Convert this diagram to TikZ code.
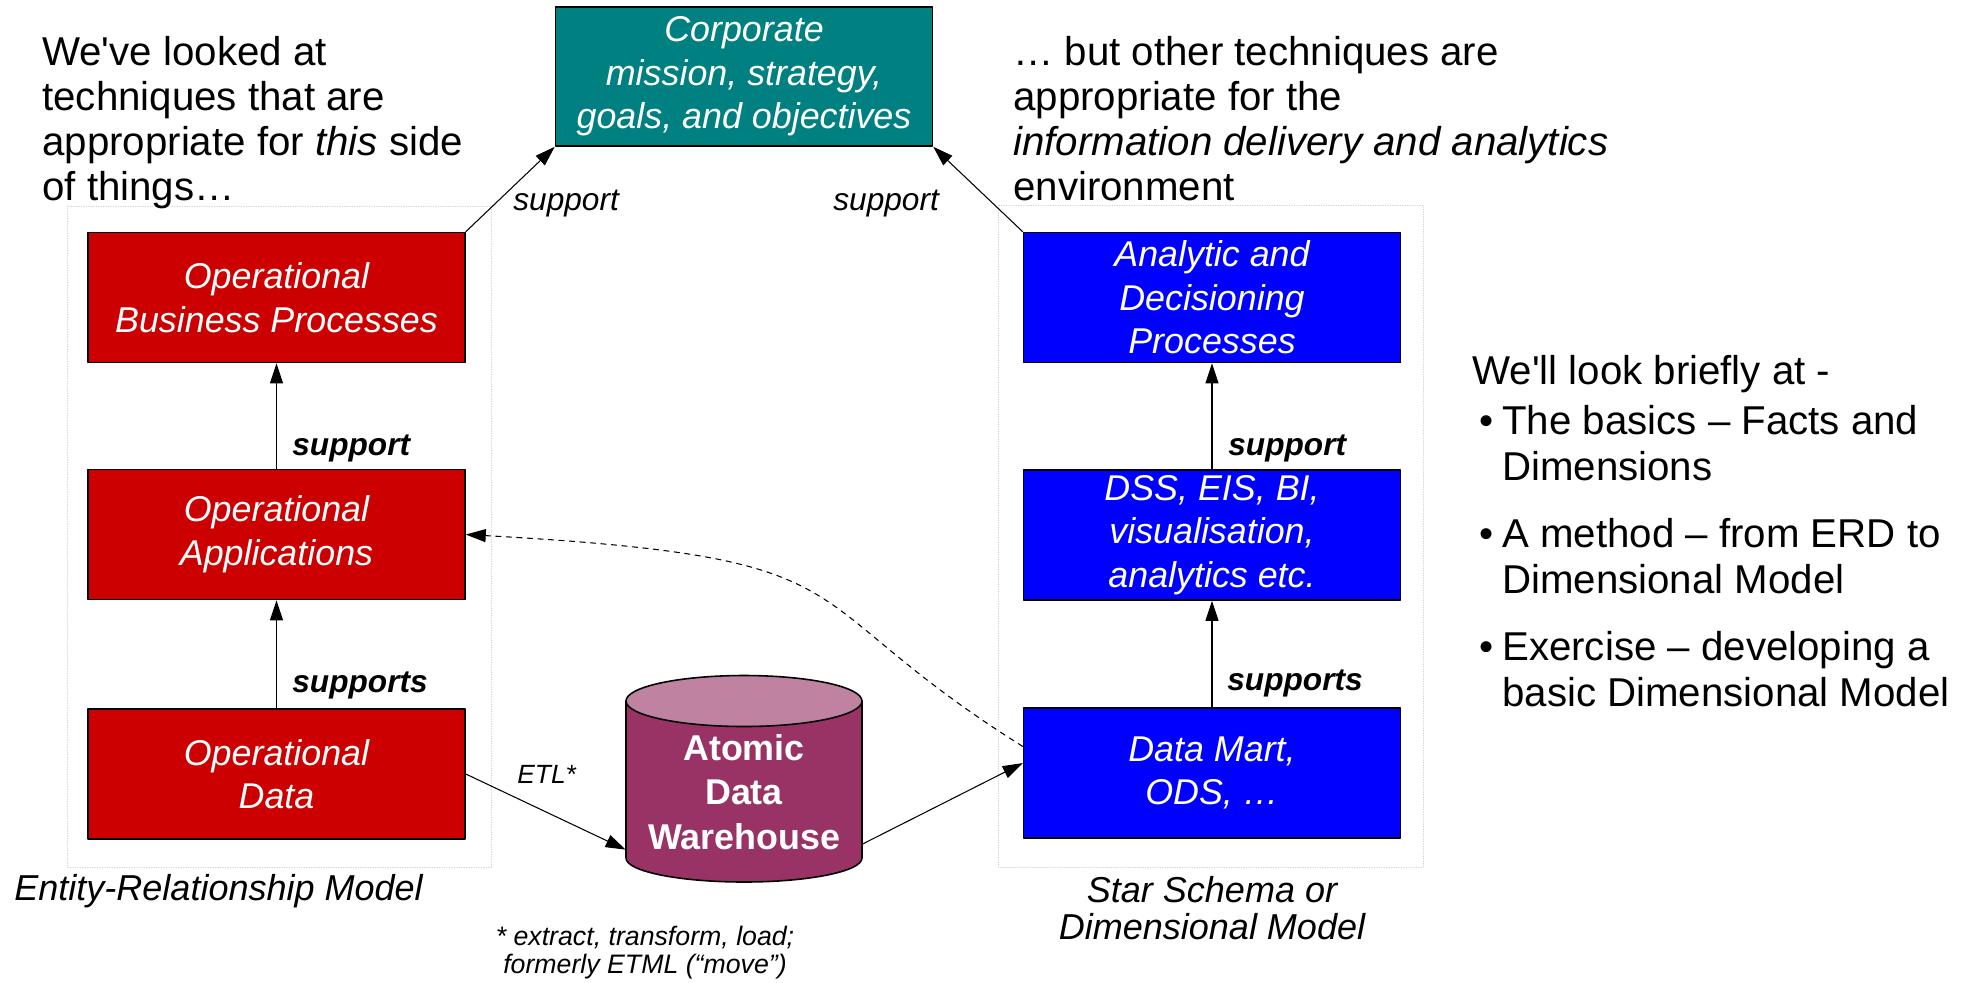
\documentclass[tikz,border=0pt]{standalone}
\usepackage{fontspec}
\setmainfont{Liberation Sans}
\usetikzlibrary{arrows.meta}

\definecolor{opred}{RGB}{204,0,0}
\definecolor{anblue}{RGB}{0,0,255}
\definecolor{corpteal}{RGB}{0,128,128}
\definecolor{dwbody}{RGB}{153,51,102}
\definecolor{dwtop}{RGB}{192,130,161}

\begin{document}
\begin{tikzpicture}[x=0.2mm,y=-0.2mm,line join=round,line cap=round,
  box/.style={draw=black,line width=0.9pt,minimum width=75.4mm,minimum height=26mm,
    inner sep=0pt,align=center,text=white,font=\fontsize{20.4}{24.8}\selectfont\itshape},
  oper/.style={box,fill=opred},
  anal/.style={box,fill=anblue},
  freccia/.style={line width=0.6pt,-{Triangle[length=4mm,width=2.6mm]}},
  cornice/.style={gray!35,line width=0.4pt,densely dotted},
  etich/.style={inner sep=0pt,anchor=base west,font=\fontsize{18}{20}\selectfont\bfseries\itshape},
  nota/.style={inner sep=0pt,anchor=base west,font=\fontsize{18}{20}\selectfont\itshape},
  testo/.style={inner sep=0pt,anchor=north west,align=left,font=\fontsize{22.9}{25.6}\selectfont}]

  \useasboundingbox (0,0) rectangle (1968,982);

  % ---- cornici tratteggiate delle due colonne -----------------------------
  \draw[cornice] (67,206) rectangle (491,867);
  \draw[cornice] (998,205) rectangle (1423,867);

  % ---- testi di commento ---------------------------------------------------
  \node[testo] (txtsx) at (42,36) {We\textquotesingle ve looked at\\techniques that are\\
    appropriate for \textit{this} side\\of things…};
  \node[testo] (txtdx) at (1013,36) {… but other techniques are\\appropriate for the\\
    \textit{information delivery and analytics}\\environment};
  \node[testo,font=\fontsize{22.9}{26.2}\selectfont] (elenco) at (1472,352) {%
    \begin{tabular}{@{\hspace{4pt}}l@{\hspace{5pt}}l@{}}
      \multicolumn{2}{@{}l@{}}{We\textquotesingle ll look briefly at -}\\[2pt]
      \textbullet & The basics – Facts and\\
                  & Dimensions\\[12pt]
      \textbullet & A method – from ERD to\\
                  & Dimensional Model\\[12pt]
      \textbullet & Exercise – developing a\\
                  & basic Dimensional Model
    \end{tabular}};

  % ---- obiettivi aziendali -------------------------------------------------
  \node[box,fill=corpteal,minimum height=27.8mm] (corp) at (744,76.5)
    {Corporate\\mission, strategy,\\goals, and objectives};

  % ---- colonna operazionale (a sinistra) ----------------------------------
  \node[oper] (obp) at (276.5,297.5) {Operational\\Business Processes};
  \node[oper] (oa)  at (276.5,534.5) {Operational\\Applications};
  \node[oper] (od)  at (276.5,774)   {Operational\\Data};

  % ---- colonna analitica (a destra) ---------------------------------------
  \node[anal] (adp) at (1212,297.5) {Analytic and\\Decisioning\\Processes};
  \node[anal] (dss) at (1212,535)   {DSS, EIS, BI,\\visualisation,\\analytics etc.};
  \node[anal] (dm)  at (1212,773)   {Data Mart,\\ODS, …};

  % ---- cilindro del data warehouse ----------------------------------------
  \filldraw[fill=dwbody,line width=0.9pt] (626,701) -- (626,858)
    arc[start angle=180,end angle=360,x radius=23.6mm,y radius=4.8mm] -- (862,701);
  \filldraw[fill=dwtop,line width=0.9pt] (744,701) ellipse[x radius=23.6mm,y radius=5.1mm];
  \node[inner sep=0pt,minimum width=47.2mm,minimum height=41.4mm] (adw) at (744,778.5) {};
  \node[align=center,inner sep=0pt,text=white,font=\fontsize{20.4}{25.3}\selectfont\bfseries]
    (adwtxt) at (744,792) {Atomic\\Data\\Warehouse};

  % ---- frecce --------------------------------------------------------------
  \draw[freccia] (od) -- (oa);
  \draw[freccia] (oa) -- (obp);
  \draw[freccia] (obp.north east) -- (corp.south west);
  \draw[freccia] (dm) -- (dss);
  \draw[freccia] (dss) -- (adp);
  \draw[freccia] (adp.north west) -- (corp.south east);
  \draw[freccia] (od.east) -- (adw.211);
  \draw[freccia] (adw.331) -- (dm.177);
  \draw[freccia,dashed] (dm.172) .. controls (780,594) and (885,558) .. (oa.east);

  % ---- etichette delle frecce ---------------------------------------------
  \node[etich] (supsx)  at (292,455)  {support};
  \node[etich] (supssx) at (292,692)  {supports};
  \node[etich] (supdx)  at (1228,455) {support};
  \node[etich] (supsdx) at (1227,690) {supports};
  \node[nota] (corpsx) at (513,210) {support};
  \node[nota] (corpdx) at (833,210) {support};
  \node[nota,font=\fontsize{15}{17}\selectfont\itshape] (etl) at (517,783) {ETL*};

  % ---- didascalie -----------------------------------------------------------
  \node[nota,font=\fontsize{20.5}{21}\selectfont\itshape] (erm) at (14,900)
    {Entity-Relationship Model};
  \node[inner sep=0pt,anchor=north,align=center,font=\fontsize{20.5}{20.9}\selectfont\itshape]
    (dim) at (1212,876) {Star Schema or\\Dimensional Model};
  \node[inner sep=0pt,anchor=north,align=center,font=\fontsize{15.2}{16}\selectfont\itshape]
    (etlnota) at (645,925.5) {* extract, transform, load;\\formerly ETML (“move”)};

\end{tikzpicture}
\end{document}
